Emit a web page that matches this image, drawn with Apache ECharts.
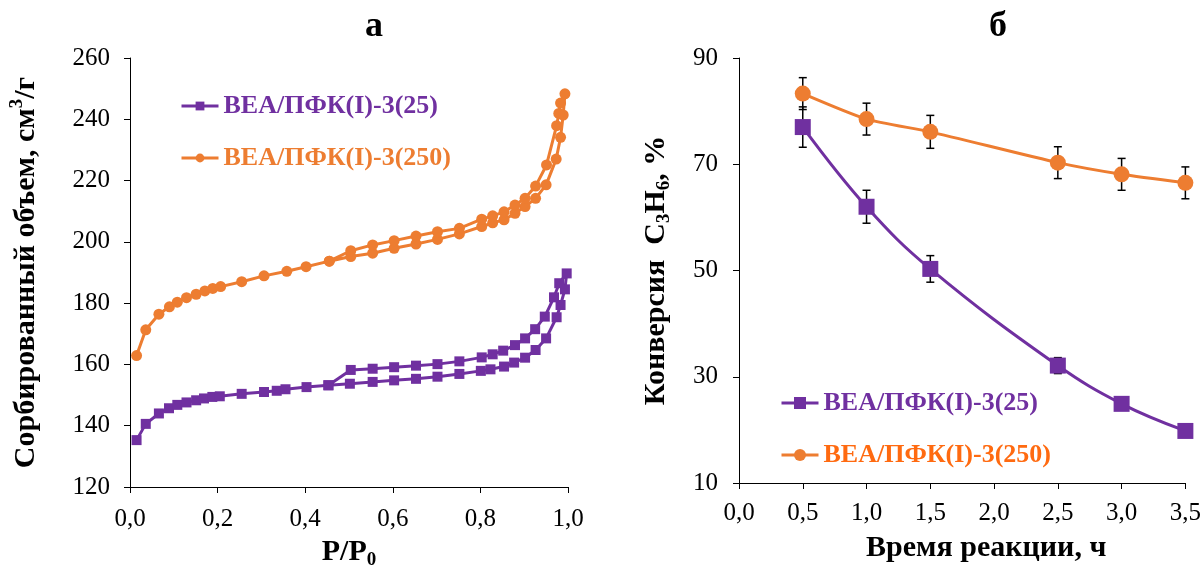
<!DOCTYPE html>
<html>
<head>
<meta charset="utf-8">
<script src="https://cdn.jsdelivr.net/npm/echarts@6/dist/echarts.min.js"></script>
<style>html,body{margin:0;padding:0;background:#fff;}#c{width:1204px;height:576px;}</style>
</head>
<body>
<div id="c"></div>
<script>
// ---- Chart a: sorption isotherms (adsorption then desorption branch) ----
const pA25 = [0.015,0.036,0.066,0.089,0.108,0.129,0.151,0.169,0.188,0.205,0.255,0.306,0.335,0.355,0.403,0.453,0.502,0.554,0.603,0.653,0.702,0.752,0.801,0.823,0.854,0.877,0.902,0.926,0.950,0.974,0.983,0.993,0.997,
              0.980,0.968,0.947,0.925,0.902,0.879,0.852,0.828,0.803,0.752,0.702,0.653,0.603,0.554,0.504,0.453];
const vA25 = [135.3,140.6,144.0,145.7,146.8,147.6,148.3,148.9,149.4,149.6,150.4,151.0,151.4,151.9,152.6,153.2,153.7,154.3,154.8,155.3,156.0,156.9,157.9,158.4,159.3,160.6,162.2,164.7,168.5,175.4,179.4,184.5,189.7,
              186.5,181.9,175.6,171.5,168.5,166.3,164.5,163.3,162.3,161.0,160.1,159.6,159.1,158.6,158.2,153.2];
const pA250 = [0.015,0.036,0.066,0.090,0.108,0.129,0.151,0.171,0.189,0.207,0.255,0.306,0.358,0.402,0.455,0.504,0.554,0.603,0.653,0.702,0.752,0.803,0.828,0.854,0.879,0.902,0.926,0.950,0.973,0.983,0.989,0.993,
               0.983,0.979,0.974,0.951,0.926,0.902,0.879,0.854,0.828,0.803,0.752,0.702,0.653,0.603,0.554,0.504,0.455];
const vA250 = [162.9,171.3,176.4,178.8,180.3,181.8,182.9,184.0,184.8,185.4,187.0,188.9,190.4,191.9,193.7,195.2,196.3,197.9,199.3,200.8,202.6,205.0,206.2,207.2,209.3,211.5,214.2,218.6,227.0,234.1,241.4,248.3,
               245.3,241.9,237.9,225.1,218.2,214.2,212.0,209.8,208.5,207.4,204.4,203.3,201.9,200.4,199.0,197.1,193.7];
const xTicksA = [0, 0.2, 0.4, 0.6, 0.8, 1.0];
const yTicksA = [120, 140, 160, 180, 200, 220, 240, 260];

// ---- Chart б: conversion vs time ----
const timeB = [0.5, 1.0, 1.5, 2.5, 3.0, 3.5];
const conv25 = [77.0, 62.0, 50.3, 32.1, 24.9, 19.8];
const err25 = [3.8, 3.1, 2.5, 1.5, 0.8, 0.6];
const conv250 = [83.3, 78.5, 76.1, 70.3, 68.1, 66.5];
const err250 = [3.0, 3.0, 3.1, 3.0, 3.0, 3.0];
const xTicksB = [0, 0.5, 1.0, 1.5, 2.0, 2.5, 3.0, 3.5];
const yTicksB = [10, 30, 50, 70, 90];

const NAME25 = 'ВЕА/ПФК(I)-3(25)';
const NAME250 = 'ВЕА/ПФК(I)-3(250)';
const PURPLE = '#7030A0';
const ORANGE = '#ED7D31';
const FONT = '"Liberation Serif","Times New Roman",serif';

const zip = (a, b) => a.map((v, i) => [v, b[i]]);
const comma = (d) => (v) => v.toFixed(d).replace('.', ',');

function errorItem(params, api) {
  const x = api.value(0), lo = api.value(1), hi = api.value(2);
  const pLo = api.coord([x, lo]);
  const pHi = api.coord([x, hi]);
  const cap = 4;
  const st = { stroke: '#000', lineWidth: 1.5 };
  return {
    type: 'group',
    children: [
      { type: 'line', shape: { x1: pLo[0], y1: pLo[1], x2: pHi[0], y2: pHi[1] }, style: st },
      { type: 'line', shape: { x1: pLo[0] - cap, y1: pLo[1], x2: pLo[0] + cap, y2: pLo[1] }, style: st },
      { type: 'line', shape: { x1: pHi[0] - cap, y1: pHi[1], x2: pHi[0] + cap, y2: pHi[1] }, style: st }
    ]
  };
}

const axisCommon = {
  axisLine: { show: true, onZero: false, lineStyle: { color: '#000', width: 1 } },
  axisTick: { show: true, inside: false, length: 6, lineStyle: { color: '#000', width: 1 } },
  splitLine: { show: false },
  axisLabel: { color: '#000', fontFamily: FONT, fontSize: 25 },
  nameTextStyle: { color: '#000', fontFamily: FONT, fontSize: 30, fontWeight: 'bold' }
};

const richName = {
  sub: { fontFamily: FONT, fontSize: 19, fontWeight: 'bold', color: '#000', verticalAlign: 'bottom', lineHeight: 19 },
  sup: { fontFamily: FONT, fontSize: 19, fontWeight: 'bold', color: '#000', verticalAlign: 'top', lineHeight: 19 },
  m: { fontFamily: FONT, fontSize: 30, fontWeight: 'bold', color: '#000', lineHeight: 36 }
};

const option = {
  animation: false,
  backgroundColor: '#fff',
  title: [
    { text: 'а', left: 369, top: 4, textAlign: 'center', textStyle: { fontFamily: FONT, fontSize: 36, fontWeight: 'bold', color: '#000' } },
    { text: 'б', left: 993, top: 4, textAlign: 'center', textStyle: { fontFamily: FONT, fontSize: 36, fontWeight: 'bold', color: '#000' } }
  ],
  grid: [
    { left: 130, right: 636, top: 58, bottom: 89 },
    { left: 739, right: 17, top: 58, bottom: 93 }
  ],
  legend: [
    {
      orient: 'vertical', left: 180, top: 93, padding: 0, itemGap: 26, itemWidth: 37, itemHeight: 11,
      lineStyle: { width: 3 },
      textStyle: { fontFamily: FONT, fontSize: 26, fontWeight: 'bold' },
      data: [
        { name: NAME25, textStyle: { color: PURPLE } },
        { name: NAME250, textStyle: { color: ORANGE } }
      ]
    },
    {
      orient: 'vertical', left: 780, top: 390, padding: 0, itemGap: 26, itemWidth: 37, itemHeight: 15,
      lineStyle: { width: 3 },
      textStyle: { fontFamily: FONT, fontSize: 26, fontWeight: 'bold' },
      data: [
        { name: NAME25, textStyle: { color: PURPLE } },
        { name: NAME250, textStyle: { color: '#FF6A10' } }
      ]
    }
  ],
  xAxis: [
    Object.assign({}, axisCommon, {
      type: 'value', gridIndex: 0, min: xTicksA[0], max: xTicksA[xTicksA.length - 1], interval: 0.2,
      axisLabel: Object.assign({}, axisCommon.axisLabel, { formatter: comma(1), margin: 20 }),
      name: '{m|P/P}{sub|0}', nameLocation: 'middle', nameGap: 46,
      nameTextStyle: Object.assign({}, axisCommon.nameTextStyle, { rich: richName })
    }),
    Object.assign({}, axisCommon, {
      type: 'value', gridIndex: 1, min: xTicksB[0], max: xTicksB[xTicksB.length - 1], interval: 0.5,
      axisLabel: Object.assign({}, axisCommon.axisLabel, { formatter: comma(1), margin: 18 }),
      name: 'Время реакции, ч', nameLocation: 'middle', nameGap: 50,
      nameTextStyle: Object.assign({}, axisCommon.nameTextStyle, { padding: [0, 0, 0, 48] })
    })
  ],
  yAxis: [
    Object.assign({}, axisCommon, {
      type: 'value', gridIndex: 0, min: yTicksA[0], max: yTicksA[yTicksA.length - 1], interval: 20,
      axisLabel: Object.assign({}, axisCommon.axisLabel, { margin: 20 }),
      name: '{m|Сорбированный объем, см}{sup|3}{m|/г}', nameLocation: 'middle', nameGap: 86,
      nameTextStyle: Object.assign({}, axisCommon.nameTextStyle, { rich: richName })
    }),
    Object.assign({}, axisCommon, {
      type: 'value', gridIndex: 1, min: yTicksB[0], max: yTicksB[yTicksB.length - 1], interval: 20,
      axisLabel: Object.assign({}, axisCommon.axisLabel, { margin: 21 }),
      name: '{m|Конверсия  C}{sub|3}{m|H}{sub|6}{m|, %}', nameLocation: 'middle', nameGap: 65,
      nameTextStyle: Object.assign({}, axisCommon.nameTextStyle, { rich: richName })
    })
  ],
  series: [
    {
      name: NAME25, type: 'line', xAxisIndex: 0, yAxisIndex: 0, data: zip(pA25, vA25),
      symbol: 'rect', symbolSize: 10, showAllSymbol: true,
      lineStyle: { color: PURPLE, width: 3 }, itemStyle: { color: PURPLE }, z: 3
    },
    {
      name: NAME250, type: 'line', xAxisIndex: 0, yAxisIndex: 0, data: zip(pA250, vA250),
      symbol: 'circle', symbolSize: 11, showAllSymbol: true,
      lineStyle: { color: ORANGE, width: 3 }, itemStyle: { color: ORANGE }, z: 3
    },
    {
      type: 'custom', xAxisIndex: 1, yAxisIndex: 1, renderItem: errorItem, z: 1,
      data: timeB.map((t, i) => [t, conv25[i] - err25[i], conv25[i] + err25[i]])
    },
    {
      type: 'custom', xAxisIndex: 1, yAxisIndex: 1, renderItem: errorItem, z: 1,
      data: timeB.map((t, i) => [t, conv250[i] - err250[i], conv250[i] + err250[i]])
    },
    {
      name: NAME25, type: 'line', xAxisIndex: 1, yAxisIndex: 1, data: zip(timeB, conv25),
      symbol: 'rect', symbolSize: 16, smooth: 0.4,
      lineStyle: { color: PURPLE, width: 3 }, itemStyle: { color: PURPLE }, z: 3
    },
    {
      name: NAME250, type: 'line', xAxisIndex: 1, yAxisIndex: 1, data: zip(timeB, conv250),
      symbol: 'circle', symbolSize: 16, smooth: 0.2,
      lineStyle: { color: ORANGE, width: 3 }, itemStyle: { color: ORANGE }, z: 3
    }
  ]
};

const chart = echarts.init(document.getElementById('c'), null, { renderer: 'canvas' });
chart.setOption(option);
</script>
</body>
</html>
